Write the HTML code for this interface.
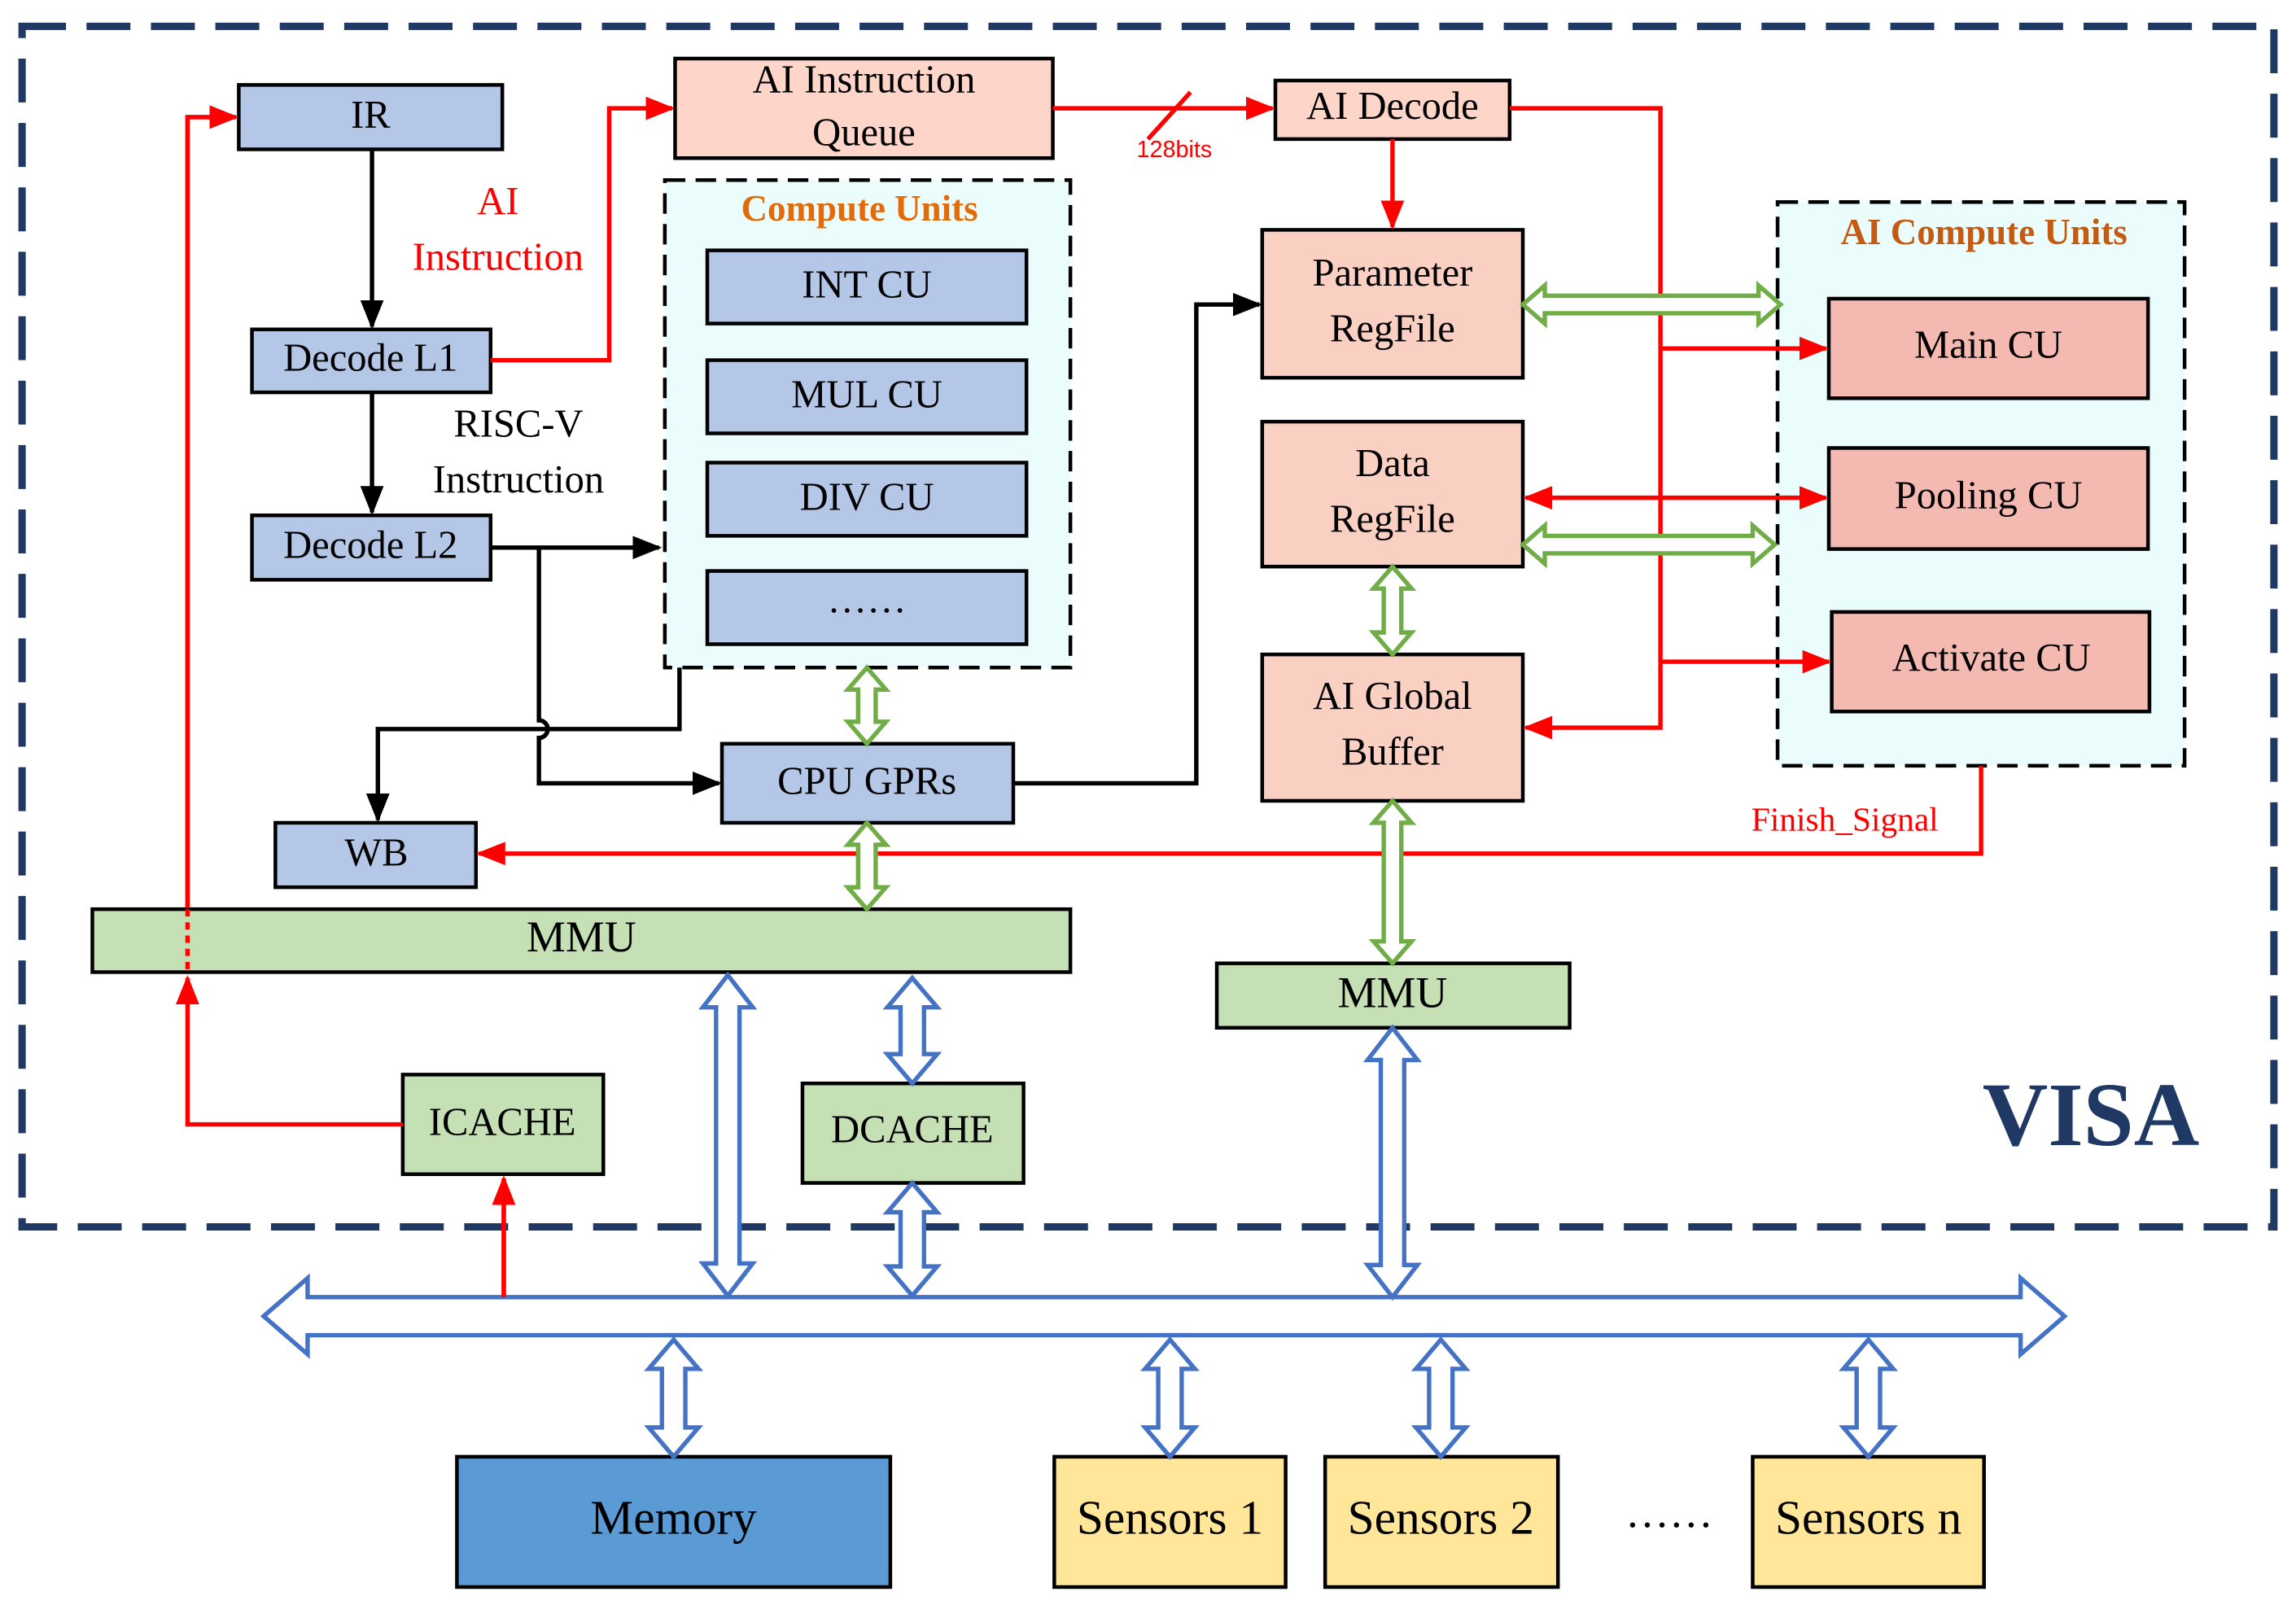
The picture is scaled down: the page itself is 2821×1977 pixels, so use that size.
<!DOCTYPE html>
<html><head><meta charset="utf-8"><style>
html,body{margin:0;padding:0;background:#fff}
svg{display:block}
text{font-family:"Liberation Serif",serif;font-size:27px;text-anchor:middle;dominant-baseline:middle;fill:#000}
</style></head><body>
<svg width="2821" height="1977" viewBox="0 0 1568 1099" xmlns="http://www.w3.org/2000/svg">
<defs>
<marker id="ar" markerWidth="10" markerHeight="10" refX="9" refY="5" orient="auto" markerUnits="userSpaceOnUse" viewBox="0 0 10 10"><path d="M0,0L10,5L0,10z" fill="#f00"/></marker>
<marker id="arr" markerWidth="20" markerHeight="20" refX="18" refY="10" orient="auto-start-reverse" markerUnits="userSpaceOnUse" viewBox="0 0 20 20"><path d="M0,2L20,10L0,18z" fill="#f00"/></marker>
<marker id="ab" markerWidth="20" markerHeight="20" refX="18" refY="10" orient="auto" markerUnits="userSpaceOnUse" viewBox="0 0 20 20"><path d="M0,2L20,10L0,18z" fill="#000"/></marker>
</defs>
<rect x="15" y="18" width="1538" height="820" fill="none" stroke="#1f3864" stroke-width="5" stroke-dasharray="30,14"/>
<text x="1428" y="768" style="font-size:62px;font-weight:bold;fill:#1f3864">VISA</text>

<!-- compute units boxes -->
<rect x="454" y="123" width="277" height="333" fill="#eafcfc" stroke="#000" stroke-width="2.5" stroke-dasharray="14,7"/>
<text x="587" y="145" style="font-size:25px;font-weight:bold;fill:#e36c09">Compute Units</text>
<rect x="1214" y="138" width="278" height="385" fill="#eafcfc" stroke="#000" stroke-width="2.5" stroke-dasharray="14,7"/>
<text x="1355" y="161" style="font-size:25px;font-weight:bold;fill:#c55a11">AI Compute Units</text>

<g stroke="#000" stroke-width="2.5">
<rect x="163" y="58" width="180" height="44" fill="#b4c7e7"/>
<rect x="172" y="225" width="163" height="43" fill="#b4c7e7"/>
<rect x="172" y="352" width="163" height="44" fill="#b4c7e7"/>
<rect x="188" y="562" width="137" height="44" fill="#b4c7e7"/>
<rect x="483" y="171" width="218" height="50" fill="#b4c7e7"/>
<rect x="483" y="246" width="218" height="50" fill="#b4c7e7"/>
<rect x="483" y="316" width="218" height="50" fill="#b4c7e7"/>
<rect x="483" y="390" width="218" height="50" fill="#b4c7e7"/>
<rect x="493" y="508" width="199" height="54" fill="#b4c7e7"/>
<rect x="461" y="40" width="258" height="68" fill="#fdd5c9"/>
<rect x="871" y="55" width="160" height="40" fill="#fdd5c9"/>
<rect x="862" y="157" width="178" height="101" fill="#fad0c3"/>
<rect x="862" y="288" width="178" height="99" fill="#fad0c3"/>
<rect x="862" y="447" width="178" height="100" fill="#fad0c3"/>
<rect x="1249" y="204" width="218" height="68" fill="#f4b9b0"/>
<rect x="1249" y="306" width="218" height="69" fill="#f4b9b0"/>
<rect x="1251" y="418" width="217" height="68" fill="#f4b9b0"/>
<rect x="63" y="621" width="668" height="43" fill="#c5e0b4"/>
<rect x="831" y="658" width="241" height="44" fill="#c5e0b4"/>
<rect x="275" y="734" width="137" height="68" fill="#c5e0b4"/>
<rect x="548" y="740" width="151" height="68" fill="#c5e0b4"/>
<rect x="312" y="995" width="296" height="89" fill="#5b9bd5"/>
<rect x="720" y="995" width="158" height="89" fill="#ffe699"/>
<rect x="905" y="995" width="159" height="89" fill="#ffe699"/>
<rect x="1197" y="995" width="158" height="89" fill="#ffe699"/>
</g>

<text x="253" y="81">IR</text>
<text x="253" y="247">Decode L1</text>
<text x="253" y="375">Decode L2</text>
<text x="257" y="585">WB</text>
<text x="592" y="197">INT CU</text>
<text x="592" y="272">MUL CU</text>
<text x="592" y="342">DIV CU</text>
<text x="592" y="412">……</text>
<text x="592" y="536">CPU GPRs</text>
<text x="590" y="57">AI Instruction</text>
<text x="590" y="93">Queue</text>
<text x="951" y="75">AI Decode</text>
<text x="951" y="189">Parameter</text>
<text x="951" y="227">RegFile</text>
<text x="951" y="319">Data</text>
<text x="951" y="357">RegFile</text>
<text x="951" y="478">AI Global</text>
<text x="951" y="516">Buffer</text>
<text x="1358" y="238">Main CU</text>
<text x="1358" y="341">Pooling CU</text>
<text x="1360" y="452">Activate CU</text>
<text x="397" y="643" style="font-size:30px">MMU</text>
<text x="951" y="681" style="font-size:30px">MMU</text>
<text x="343" y="769">ICACHE</text>
<text x="623" y="774">DCACHE</text>
<text x="460" y="1040" style="font-size:33px">Memory</text>
<text x="799" y="1040" style="font-size:33px">Sensors 1</text>
<text x="984" y="1040" style="font-size:33px">Sensors 2</text>
<text x="1276" y="1040" style="font-size:33px">Sensors n</text>
<text x="1140" y="1036" style="font-size:30px">……</text>
<text x="340" y="140" style="fill:#f00">AI</text>
<text x="340" y="178" style="fill:#f00">Instruction</text>
<text x="354" y="292">RISC-V</text>
<text x="354" y="330">Instruction</text>
<text x="802" y="103" style="font-family:'Liberation Sans',sans-serif;font-size:16px;fill:#f00">128bits</text>
<text x="1260" y="562" style="font-size:23px;fill:#f00">Finish_Signal</text>

<!-- black connectors -->
<g stroke="#000" stroke-width="3" fill="none">
<path d="M254,102V223" marker-end="url(#ab)"/>
<path d="M254,268V350" marker-end="url(#ab)"/>
<path d="M335,374H450" marker-end="url(#ab)"/>
<path d="M368,374V492a6,6 0 0 1 0,12V535H491" marker-end="url(#ab)"/>
<path d="M464,456V498H258V560" marker-end="url(#ab)"/>
<path d="M692,535H817V208H860" marker-end="url(#ab)"/>
</g>

<!-- red connectors -->
<g stroke="#f00" stroke-width="3" fill="none">
<path d="M128,620V80H161" marker-end="url(#ab)" style="stroke:#f00" marker-end="url(#arr)"/>
<path d="M128,621V664" stroke-dasharray="5,4"/>
<path d="M275,768H128V668" marker-end="url(#arr)"/>
<path d="M344,886V805" marker-end="url(#arr)"/>
<path d="M335,246H416V74H459" marker-end="url(#arr)"/>
<path d="M719,74H869" marker-end="url(#arr)"/>
<path d="M784,95L813,63"/>
<path d="M951,95V155" marker-end="url(#arr)"/>
<path d="M1031,74H1134V497H1042" marker-end="url(#arr)"/>
<path d="M1134,238H1247" marker-end="url(#arr)"/>
<path d="M1134,452H1249" marker-end="url(#arr)"/>
<path d="M1042,340H1247" marker-start="url(#arr)" marker-end="url(#arr)"/>
<path d="M1353,523V583H327" marker-end="url(#arr)"/>
</g>
<path d="M128,620V80H161" stroke="#f00" stroke-width="3" fill="none" marker-end="url(#arr)"/>

<!-- green double arrows -->
<g stroke="#70ad47" stroke-width="3" fill="#fff">
<polygon points="592,456 605,471 598,471 598,493 605,493 592,508 579,493 586,493 586,471 579,471"/>
<polygon points="592,562 605,577 598,577 598,606 605,606 592,621 579,606 586,606 586,577 579,577"/>
<polygon points="951,387 964,402 957,402 957,432 964,432 951,447 938,432 945,432 945,402 938,402"/>
<polygon points="951,547 964,562 957,562 957,643 964,643 951,658 938,643 945,643 945,562 938,562"/>
<polygon points="1040,208 1055,195 1055,202 1201,202 1201,195 1216,208 1201,221 1201,214 1055,214 1055,221"/>
<polygon points="1040,372 1055,359 1055,366 1197,366 1197,359 1212,372 1197,385 1197,378 1055,378 1055,385"/>
</g>

<!-- blue double arrows -->
<g stroke="#4472c4" stroke-width="3" fill="#fff">
<polygon points="180,899 210,873 210,886 1380,886 1380,873 1410,899 1380,925 1380,912 210,912 210,925"/>
<polygon points="497,666 514,688 505,688 505,863 514,863 497,885 480,863 489,863 489,688 480,688"/>
<polygon points="623,668 640,688 631,688 631,720 640,720 623,740 606,720 615,720 615,688 606,688"/>
<polygon points="623,808 640,828 631,828 631,865 640,865 623,885 606,865 615,865 615,828 606,828"/>
<polygon points="951,702 968,724 959,724 959,864 968,864 951,886 934,864 943,864 943,724 934,724"/>
<polygon points="460,915 477,935 468,935 468,975 477,975 460,995 443,975 452,975 452,935 443,935"/>
<polygon points="799,915 816,935 807,935 807,975 816,975 799,995 782,975 791,975 791,935 782,935"/>
<polygon points="984,915 1001,935 992,935 992,975 1001,975 984,995 967,975 976,975 976,935 967,935"/>
<polygon points="1276,915 1293,935 1284,935 1284,975 1293,975 1276,995 1259,975 1268,975 1268,935 1259,935"/>
</g>
<path d="M344,886V805" stroke="#f00" stroke-width="3" fill="none" marker-end="url(#arr)"/>
</svg>
</body></html>
